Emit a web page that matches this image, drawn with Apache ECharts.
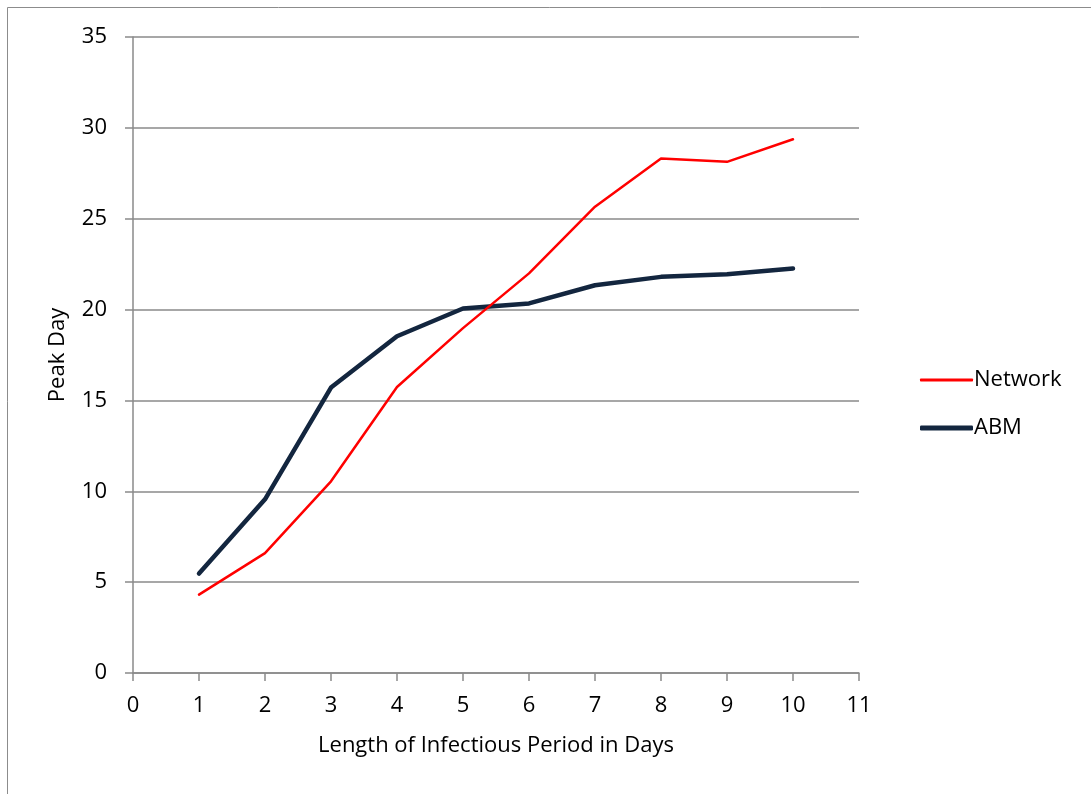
<!DOCTYPE html>
<html>
<head>
<meta charset="utf-8">
<script src="https://cdn.jsdelivr.net/npm/echarts@6/dist/echarts.min.js"></script>
<style>
  html, body { margin: 0; padding: 0; background: #fff; }
  #chart { width: 1091px; height: 794px; }
</style>
</head>
<body>
<div id="chart"></div>
<script>
// Infectious period length (days)
const periods = [1, 2, 3, 4, 5, 6, 7, 8, 9, 10];
// Peak day per model
const networkPeak = [4.31, 6.60, 10.55, 15.74, 18.98, 21.99, 25.66, 28.32, 28.13, 29.37];
const abmPeak = [5.47, 9.56, 15.71, 18.53, 20.06, 20.34, 21.34, 21.80, 21.95, 22.26];

const FONT = '"Open Sans", "Liberation Sans", sans-serif';
const FS = 22;
const axisGray = '#8a8a8a';

const chart = echarts.init(document.getElementById('chart'), null, { renderer: 'canvas' });

chart.setOption({
  animation: false,
  backgroundColor: '#fff',
  textStyle: { fontFamily: FONT, color: '#000' },
  graphic: [{
    type: 'rect',
    shape: { x: 7.5, y: 7.5, width: 1200, height: 900 },
    style: { fill: 'none', stroke: '#8c8c8c', lineWidth: 1 },
    silent: true
  }],
  grid: { left: 133, right: 232, top: 37, bottom: 121 },
  legend: [{
    data: ['Network'],
    left: 915, top: 364,
    icon: 'roundRect',
    itemWidth: 53, itemHeight: 3,
    textStyle: { fontFamily: FONT, fontSize: FS, color: '#000', padding: [0, 0, 0, -4] }
  }, {
    data: ['ABM'],
    left: 915, top: 412,
    icon: 'roundRect',
    itemWidth: 53, itemHeight: 5,
    textStyle: { fontFamily: FONT, fontSize: FS, color: '#000', padding: [0, 0, 0, -4] }
  }],
  xAxis: {
    type: 'value',
    min: 0, max: 11, interval: 1,
    name: 'Length of Infectious Period in Days',
    nameLocation: 'middle',
    nameGap: 62,
    nameTextStyle: { fontFamily: FONT, fontSize: FS, color: '#000' },
    axisLine: { lineStyle: { color: axisGray, width: 1.5 } },
    axisTick: { show: true, length: 8, lineStyle: { color: axisGray, width: 1.5 } },
    axisLabel: { fontFamily: FONT, fontSize: FS, color: '#000', margin: 22 },
    splitLine: { show: false }
  },
  yAxis: {
    type: 'value',
    min: 0, max: 35, interval: 5,
    name: 'Peak Day',
    nameLocation: 'middle',
    nameGap: 64,
    nameRotate: 90,
    nameTextStyle: { fontFamily: FONT, fontSize: FS, color: '#000' },
    axisLine: { show: true, lineStyle: { color: axisGray, width: 1.5 } },
    axisTick: { show: true, length: 8, lineStyle: { color: axisGray, width: 1.5 } },
    axisLabel: { fontFamily: FONT, fontSize: FS, color: '#000', margin: 26 },
    splitLine: { show: true, lineStyle: { color: axisGray, width: 1.5 } }
  },
  series: [{
    name: 'Network',
    type: 'line',
    data: periods.map((p, i) => [p, networkPeak[i]]),
    showSymbol: false,
    symbol: 'none',
    color: '#ff0000',
    lineStyle: { color: '#ff0000', width: 2.5, cap: 'round', join: 'round' },
    z: 3
  }, {
    name: 'ABM',
    type: 'line',
    data: periods.map((p, i) => [p, abmPeak[i]]),
    showSymbol: false,
    symbol: 'none',
    color: '#13263f',
    lineStyle: { color: '#13263f', width: 4.5, cap: 'round', join: 'round' },
    z: 2
  }]
});
</script>
</body>
</html>
